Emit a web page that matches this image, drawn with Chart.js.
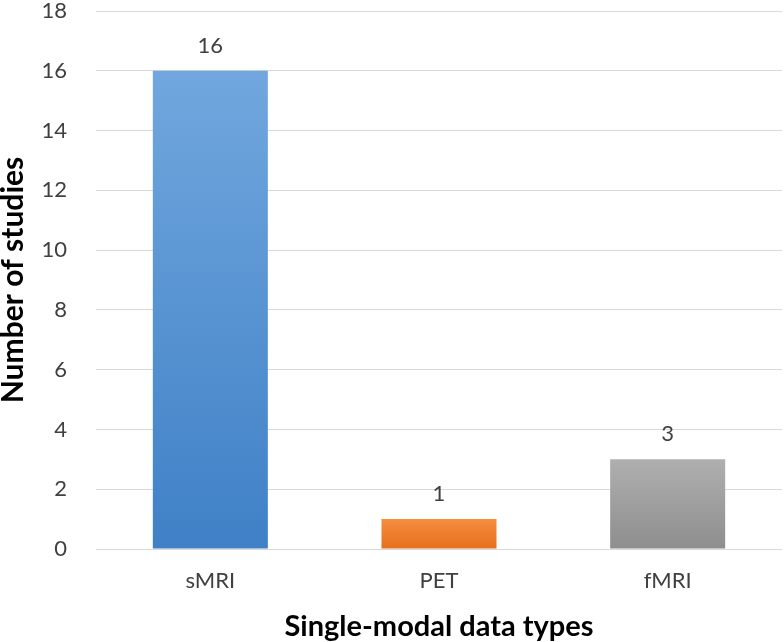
<!DOCTYPE html>
<html>
<head>
<meta charset="utf-8">
<script src="https://cdn.jsdelivr.net/npm/chart.js@4/dist/chart.umd.min.js"></script>
<style>
html,body{margin:0;padding:0;background:#fff;}
canvas{display:block;}
</style>
</head>
<body>
<canvas id="c" width="784" height="642"></canvas>
<script>
const categories = ["sMRI", "PET", "fMRI"];
const studyCounts = [16, 1, 3];
const yTicks = [0, 2, 4, 6, 8, 10, 12, 14, 16, 18];
const xTitle = "Single-modal data types";
const yTitle = "Number of studies";

const gradStops = [
  ["#71a7de", "#3f80c6"],
  ["#f68d40", "#e56f1c"],
  ["#afafaf", "#8e8e8e"]
];

const FONT = "Lato, 'Open Sans', sans-serif";

const valueLabels = {
  id: "valueLabels",
  afterDatasetsDraw(chart) {
    const ctx = chart.ctx;
    const meta = chart.getDatasetMeta(0);
    ctx.save();
    ctx.font = "22px " + FONT;
    ctx.fillStyle = "#404040";
    ctx.textAlign = "center";
    ctx.textBaseline = "alphabetic";
    meta.data.forEach((bar, i) => {
      ctx.fillText(String(studyCounts[i]), bar.x, bar.y - 18);
    });
    ctx.restore();
  }
};

new Chart(document.getElementById("c"), {
  type: "bar",
  data: {
    labels: categories,
    datasets: [{
      data: studyCounts,
      backgroundColor(ctx) {
        const chart = ctx.chart;
        const area = chart.chartArea;
        const i = ctx.dataIndex;
        if (!area || !chart.scales.y) return gradStops[i][0];
        const top = chart.scales.y.getPixelForValue(studyCounts[i]);
        const g = chart.ctx.createLinearGradient(0, top, 0, area.bottom);
        g.addColorStop(0, gradStops[i][0]);
        g.addColorStop(1, gradStops[i][1]);
        return g;
      },
      borderWidth: 0,
      barPercentage: 0.503,
      categoryPercentage: 1.0
    }]
  },
  options: {
    responsive: false,
    animation: false,
    layout: { padding: { top: 11, right: 2, left: 0, bottom: 0 } },
    plugins: {
      legend: { display: false },
      tooltip: { enabled: false }
    },
    scales: {
      x: {
        grid: { display: false },
        border: { display: false },
        ticks: { color: "#404040", font: { family: FONT, size: 22 }, padding: 11 },
        title: { display: true, text: xTitle, color: "#000", font: { family: FONT, size: 29, weight: "bold", lineHeight: 1.03 }, padding: { top: 0, bottom: 0 } },
        afterFit(scale) { scale.height = 93; }
      },
      y: {
        min: 0, max: 18,
        afterBuildTicks(scale) { scale.ticks = yTicks.map(v => ({ value: v })); },
        grid: { color: "#dadada", lineWidth: 1, drawTicks: true, tickLength: 29, tickColor: "rgba(0,0,0,0)" },
        border: { display: false },
        ticks: { color: "#404040", font: { family: FONT, size: 22, lineHeight: 1.0 }, padding: 0 },
        title: { display: true, text: yTitle, color: "#000", font: { family: FONT, size: 30, weight: "bold", lineHeight: 0.9 }, padding: { top: 0, bottom: 0 } },
        afterFit(scale) { scale.width = 96; }
      }
    }
  },
  plugins: [valueLabels]
});
</script>
</body>
</html>
